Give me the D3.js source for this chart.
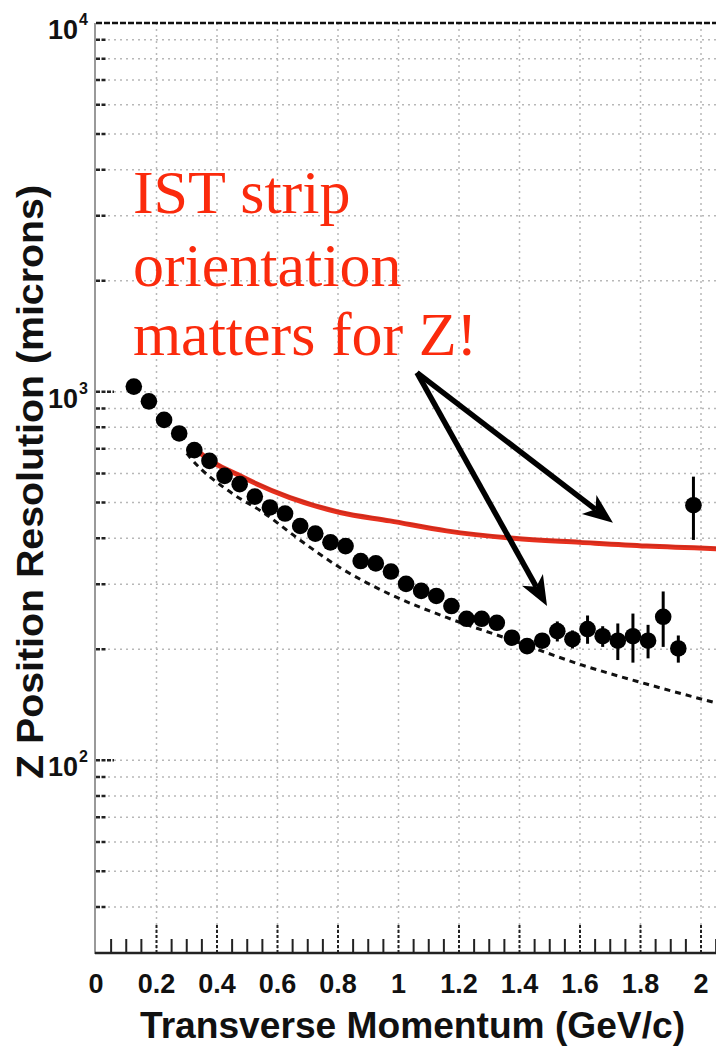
<!DOCTYPE html>
<html>
<head>
<meta charset="utf-8">
<script src="https://cdn.jsdelivr.net/npm/d3@7"></script>
<style>
  body { margin: 0; background: #fff; }
  svg text { font-family: "Liberation Sans", Arial, sans-serif; font-weight: bold; }
</style>
</head>
<body>
<div id="chart"></div>
<script>
// measured points (pT in GeV/c, Z resolution in microns)
const pT = [0.125, 0.175, 0.225, 0.275, 0.325, 0.375, 0.425, 0.475, 0.525, 0.575,
            0.625, 0.675, 0.725, 0.775, 0.825, 0.875, 0.925, 0.975, 1.025, 1.075,
            1.125, 1.175, 1.225, 1.275, 1.325, 1.375, 1.425, 1.475, 1.525, 1.575,
            1.625, 1.675, 1.725, 1.775, 1.825, 1.875, 1.925, 1.975];
const resolution = [1032, 941, 838, 770, 694, 649, 591, 561, 519, 485,
                    467, 432, 412, 390, 381, 347, 342, 325, 301, 288,
                    279, 262, 242, 242, 236, 215, 204, 211, 224, 213,
                    227, 217, 211, 217, 211, 245, 201, 492];
const resErr = [3, 3, 3, 3, 3, 3, 3, 3, 3, 3,
                3, 3, 3, 3, 3, 3, 3, 3, 3, 3,
                3, 3, 4, 4, 5, 6, 6, 8, 14, 12,
                20, 14, 24, 33, 22, 42, 17, 96];

// red curve
const redPt  = [0.33, 0.349, 0.476, 0.641, 0.807, 0.972, 1.159, 1.380, 1.600, 1.820, 2.05];
const redRes = [700, 677, 591, 516, 470, 446, 419, 400, 390, 381, 375];

// dashed curve
const dashPt  = [0.30, 0.311, 0.454, 0.553, 0.663, 0.807, 0.972, 1.159, 1.380, 1.600, 1.820, 2.05];
const dashRes = [680, 663, 527, 470, 402, 333, 282, 244, 211, 182, 161, 143];

const xTickValues = [0, 0.2, 0.4, 0.6, 0.8, 1, 1.2, 1.4, 1.6, 1.8, 2];
const xTickLabels = ["0", "0.2", "0.4", "0.6", "0.8", "1", "1.2", "1.4", "1.6", "1.8", "2"];
const yMajor = [100, 1000, 10000];
const yMajorExp = ["2", "3", "4"];

const noteLines = ["IST strip", "orientation", "matters for Z!"];
const noteAt = { x: 0.122, y: 3050 };
const arrowFrom = { x: 1.061, y: 1126 };
const arrowTips = [{ x: 1.709, y: 441 }, { x: 1.491, y: 262 }];

const W = 716, H = 1048;
const x = d3.scaleLinear().domain([0, 2]).range([96, 701]);
const y = d3.scaleLog().domain([30, 10000]).range([953, 23]);

const svg = d3.select('#chart').append('svg')
  .attr('width', W)
  .attr('height', H)
  .style('background', '#fff');

svg.append('defs').append('clipPath').attr('id', 'plot')
  .append('rect').attr('x', 96).attr('y', 20).attr('width', W - 96).attr('height', 935);

// y ticks 40..9000
let yTicks = [];
[10, 100, 1000].forEach(dec => {
  for (let k = 1; k < 10; k++) {
    const v = k * dec;
    if (v >= 40 && v < 10000) yTicks.push(v);
  }
});

const grid = svg.append('g').attr('class', 'grid');
grid.selectAll('line.h')
  .data(yTicks)
  .enter().append('line')
  .attr('class', 'h')
  .attr('x1', 96).attr('x2', W)
  .attr('y1', d => y(d)).attr('y2', d => y(d))
  .attr('stroke', '#b8b8b8')
  .attr('stroke-width', 1.5)
  .attr('stroke-dasharray', '2,4');

grid.selectAll('line.v')
  .data(xTickValues.slice(1))
  .enter().append('line')
  .attr('class', 'v')
  .attr('x1', d => x(d)).attr('x2', d => x(d))
  .attr('y1', y(10000)).attr('y2', y(30))
  .attr('stroke', '#b8b8b8')
  .attr('stroke-width', 1.5)
  .attr('stroke-dasharray', '2,4');

// top dashed line at 10^4
svg.append('line')
  .attr('x1', 96).attr('x2', W)
  .attr('y1', y(10000)).attr('y2', y(10000))
  .attr('stroke', '#111')
  .attr('stroke-width', 2.5)
  .attr('stroke-dasharray', '6,2');

// y axis
svg.append('line')
  .attr('x1', 95).attr('x2', 95)
  .attr('y1', y(10000)).attr('y2', y(30) + 1)
  .attr('stroke', '#999')
  .attr('stroke-width', 2);

svg.append('g').selectAll('line')
  .data(yTicks)
  .enter().append('line')
  .attr('x1', 96)
  .attr('x2', d => yMajor.includes(d) ? 114 : 106)
  .attr('y1', d => y(d)).attr('y2', d => y(d))
  .attr('stroke', '#222')
  .attr('stroke-width', 2.5)
  .attr('stroke-dasharray', '4,1.5');

const yLab = svg.append('g').selectAll('g')
  .data(yMajor)
  .enter().append('g');
yLab.append('text')
  .attr('x', 78)
  .attr('y', d => y(d) + 16)
  .attr('text-anchor', 'end')
  .attr('font-size', 27)
  .attr('fill', '#111')
  .text('10');
yLab.append('text')
  .attr('x', 79)
  .attr('y', d => y(d) + 2)
  .attr('font-size', 16)
  .attr('fill', '#111')
  .text((d, i) => yMajorExp[i]);

// x axis
svg.append('line')
  .attr('x1', 95).attr('x2', W)
  .attr('y1', 953).attr('y2', 953)
  .attr('stroke', '#222')
  .attr('stroke-width', 2.5);

const minorX = d3.range(1, 42).map(i => i / 20);
svg.append('g').selectAll('line')
  .data(minorX)
  .enter().append('line')
  .attr('x1', d => x(d)).attr('x2', d => x(d))
  .attr('y1', 953)
  .attr('y2', (d, i) => (i + 1) % 4 === 0 ? 925 : 939)
  .attr('stroke', '#222')
  .attr('stroke-width', 2)
  .attr('stroke-dasharray', (d, i) => (i + 1) % 4 === 0 ? '3,2' : null);

svg.append('g').selectAll('text')
  .data(xTickValues)
  .enter().append('text')
  .attr('x', d => x(d))
  .attr('y', 993)
  .attr('text-anchor', 'middle')
  .attr('font-size', 27)
  .attr('fill', '#111')
  .text((d, i) => xTickLabels[i]);

// axis titles
svg.append('text')
  .attr('x', 412.5)
  .attr('y', 1038)
  .attr('text-anchor', 'middle')
  .attr('font-size', 36)
  .attr('textLength', 545)
  .attr('lengthAdjust', 'spacingAndGlyphs')
  .attr('fill', '#111')
  .text('Transverse Momentum (GeV/c)');

svg.append('text')
  .attr('transform', 'translate(43,482) rotate(-90)')
  .attr('text-anchor', 'middle')
  .attr('font-size', 36)
  .attr('textLength', 594)
  .attr('lengthAdjust', 'spacingAndGlyphs')
  .attr('fill', '#111')
  .text('Z Position Resolution (microns)');

// curves
const plot = svg.append('g').attr('clip-path', 'url(#plot)');
const line = d3.line()
  .x(d => x(d[0]))
  .y(d => y(d[1]))
  .curve(d3.curveMonotoneX);

plot.append('path')
  .datum(dashPt.map((p, i) => [p, dashRes[i]]))
  .attr('d', line)
  .attr('fill', 'none')
  .attr('stroke', '#111')
  .attr('stroke-width', 3)
  .attr('stroke-dasharray', '6,5');

const redData = redPt.map((p, i) => [p, redRes[i]]);
plot.append('path')
  .datum(redData)
  .attr('d', line)
  .attr('fill', 'none')
  .attr('stroke', '#e8301e')
  .attr('stroke-width', 5);
plot.append('path')
  .datum(redData)
  .attr('d', line)
  .attr('transform', 'translate(0,-1)')
  .attr('fill', 'none')
  .attr('stroke', '#7d2219')
  .attr('stroke-width', 1.5)
  .attr('stroke-opacity', 0.3);

// points with error bars
const pts = pT.map((p, i) => ({ p: p, v: resolution[i], e: resErr[i] }));
plot.append('g').selectAll('line')
  .data(pts)
  .enter().append('line')
  .attr('x1', d => x(d.p)).attr('x2', d => x(d.p))
  .attr('y1', d => y(d.v - d.e)).attr('y2', d => y(d.v + d.e))
  .attr('stroke', '#000')
  .attr('stroke-width', 3);

plot.append('g').selectAll('circle')
  .data(pts)
  .enter().append('circle')
  .attr('cx', d => x(d.p))
  .attr('cy', d => y(d.v))
  .attr('r', 8.3)
  .attr('fill', '#000');

// annotation
svg.append('g').selectAll('text')
  .data(noteLines)
  .enter().append('text')
  .attr('x', x(noteAt.x))
  .attr('y', (d, i) => y(noteAt.y) + [0, 73, 142][i])
  .style('font-family', '"Liberation Serif", "Times New Roman", serif')
  .style('font-weight', 'normal')
  .attr('font-size', 62)
  .attr('fill', '#fb2a0c')
  .text(d => d);

function arrow(from, to) {
  const x0 = x(from.x), y0 = y(from.y), x1 = x(to.x), y1 = y(to.y);
  const a = Math.atan2(y1 - y0, x1 - x0);
  const len = 30, half = 12, notch = 22;
  const cos = Math.cos(a), sin = Math.sin(a);
  const bx = x1 - len * cos, by = y1 - len * sin;
  const nx = x1 - notch * cos, ny = y1 - notch * sin;
  svg.append('line')
    .attr('x1', x0).attr('y1', y0)
    .attr('x2', nx).attr('y2', ny)
    .attr('stroke', '#000')
    .attr('stroke-width', 5.5);
  svg.append('path')
    .attr('d', `M${x1},${y1}L${bx - half * sin},${by + half * cos}L${nx},${ny}L${bx + half * sin},${by - half * cos}Z`)
    .attr('fill', '#000');
}
arrowTips.forEach(t => arrow(arrowFrom, t));
</script>
</body>
</html>
